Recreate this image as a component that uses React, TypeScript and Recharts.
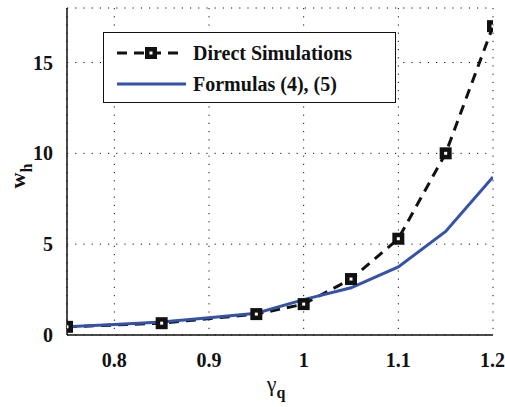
import React from "react";
import { LineChart, Line, XAxis, YAxis, CartesianGrid, Label } from "recharts";

const directX = [0.75, 0.85, 0.95, 1.0, 1.05, 1.1, 1.15, 1.2];
const directY = [0.45, 0.65, 1.15, 1.7, 3.08, 5.3, 10.0, 17.0];

const formulaX = [0.75, 0.8, 0.85, 0.9, 0.95, 1.0, 1.05, 1.1, 1.15, 1.2];
const formulaY = [0.45, 0.58, 0.72, 0.95, 1.2, 1.95, 2.6, 3.75, 5.7, 8.7];

const xTicks = [0.8, 0.9, 1, 1.1, 1.2];
const yTicks = [0, 5, 10, 15];

const direct = directX.map((x, i) => ({ x, y: directY[i] }));
const formula = formulaX.map((x, i) => ({ x, y: formulaY[i] }));

const FONT = "Liberation Serif, DejaVu Serif, serif";
const BLUE = "#3352a8";

const SquareDot = (props: any) => {
  const { cx, cy } = props;
  if (cx == null || cy == null) return null;
  return (
    <g>
      <rect x={cx - 6} y={cy - 6} width={12} height={12} fill="#111" />
      <rect x={cx - 1.5} y={cy - 1.5} width={3} height={3} fill="#fff" />
    </g>
  );
};

const LegendBox = () => (
  <div
    style={{
      position: "absolute",
      left: 103,
      top: 32,
      width: 291,
      height: 69,
      border: "1.5px solid #111",
      background: "#fff",
      fontFamily: FONT,
      fontWeight: "bold",
      fontSize: 20,
      color: "#111",
      boxSizing: "content-box",
    }}
  >
    <div style={{ display: "flex", alignItems: "center", height: 34, paddingTop: 3 }}>
      <svg width={89} height={20}>
        <line x1={13} y1={10} x2={80} y2={10} stroke="#111" strokeWidth={3} strokeDasharray="10 7" />
        <rect x={41} y={4} width={12} height={12} fill="#111" />
        <rect x={45.5} y={8.5} width={3} height={3} fill="#fff" />
      </svg>
      <span>Direct Simulations</span>
    </div>
    <div style={{ display: "flex", alignItems: "center", height: 28 }}>
      <svg width={89} height={20}>
        <line x1={13} y1={10} x2={82} y2={10} stroke={BLUE} strokeWidth={3} />
      </svg>
      <span>Formulas (4), (5)</span>
    </div>
  </div>
);

const tickStyle = { fontFamily: FONT, fontWeight: "bold" as const, fontSize: 20, fill: "#111" };

export default function App() {
  return (
    <div style={{ position: "absolute", left: 0, top: 0, width: 505, height: 407, background: "#fff" }}>
      <LineChart width={505} height={407} margin={{ top: 8, right: 12, left: 0, bottom: 0 }}>
        <CartesianGrid stroke="#111" strokeDasharray="1.2 7" strokeWidth={1} />
        <XAxis
          dataKey="x"
          type="number"
          domain={[0.75, 1.2]}
          ticks={xTicks}
          tickFormatter={(v: number) => (v === 1 ? "1" : String(v))}
          height={72}
          tickLine={false}
          axisLine={{ stroke: "#111", strokeWidth: 1.5 }}
          tick={tickStyle}
          tickMargin={12}
          allowDataOverflow
        >
          <Label
            content={(p: any) => {
              const vb = p.viewBox || {};
              const cx = vb.x + vb.width / 2 - 4;
              return (
                <text x={cx} y={391} fontFamily={FONT} fontSize={22} fill="#111" textAnchor="middle">
                  γ
                  <tspan dy={7} fontSize={16} fontWeight="bold">q</tspan>
                </text>
              );
            }}
          />
        </XAxis>
        <XAxis xAxisId="top" orientation="top" type="number" domain={[0.75, 1.2]} height={0} tick={false} tickLine={false} axisLine={{ stroke: "#111", strokeWidth: 1.5 }} />
        <YAxis
          type="number"
          domain={[0, 18]}
          ticks={yTicks}
          width={67}
          tickLine={false}
          axisLine={{ stroke: "#111", strokeWidth: 1.5 }}
          tick={tickStyle}
          tickMargin={8}
          allowDataOverflow
        >
          <Label
            content={() => (
              <text
                x={0}
                y={0}
                transform="translate(25,176) rotate(-90)"
                fontFamily={FONT}
                fontSize={22}
                fontWeight="bold"
                fill="#111"
                textAnchor="middle"
              >
                w
                <tspan dy={7} fontSize={16}>h</tspan>
              </text>
            )}
          />
        </YAxis>
        <YAxis yAxisId="right" orientation="right" width={0} tick={false} tickLine={false} axisLine={{ stroke: "#111", strokeWidth: 1.5 }} />
        <Line
          data={direct}
          dataKey="y"
          type="linear"
          stroke="#111"
          strokeWidth={3}
          strokeDasharray="10 7"
          dot={<SquareDot />}
          activeDot={false}
          isAnimationActive={false}
        />
        <Line
          data={formula}
          dataKey="y"
          type="linear"
          stroke={BLUE}
          strokeWidth={3}
          dot={false}
          activeDot={false}
          isAnimationActive={false}
        />
      </LineChart>
      <LegendBox />
    </div>
  );
}
